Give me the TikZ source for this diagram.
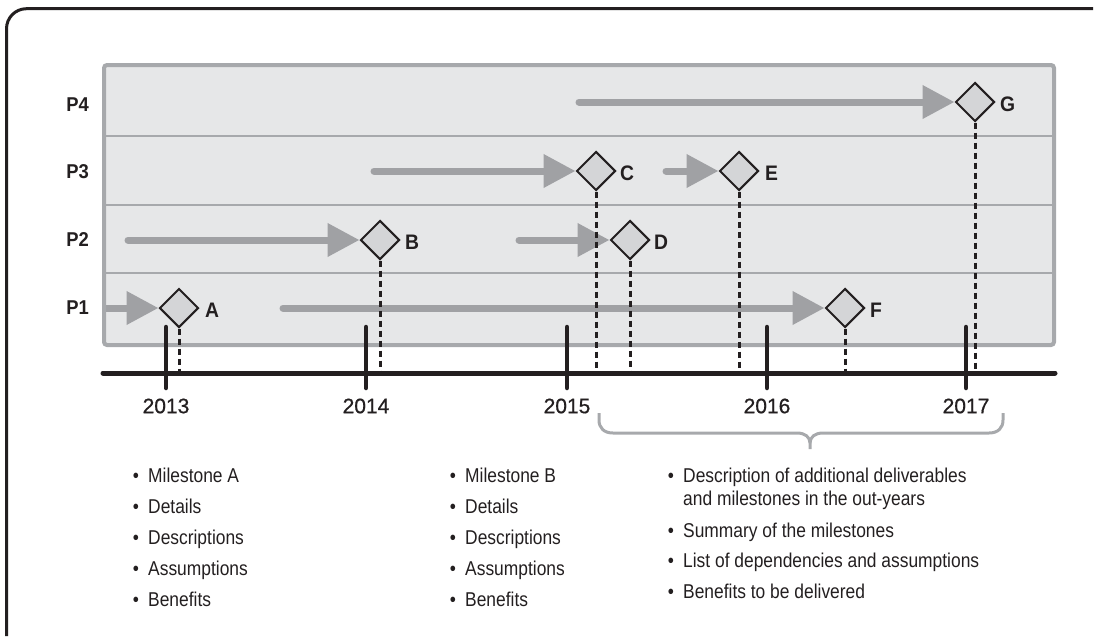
\documentclass[tikz,border=0pt]{standalone}
\usepackage{fontspec}
\setmainfont{Liberation Sans}[FakeStretch=0.87]
\newfontfamily\yearfont{Liberation Sans}[FakeBold=0.7]
\newfontfamily\tagfont{Liberation Sans}[FakeStretch=0.92]
\usetikzlibrary{shapes.geometric,arrows.meta,calc}

\definecolor{ink}{HTML}{231F20}
\definecolor{panel}{HTML}{E6E7E8}
\definecolor{rim}{HTML}{A7A9AC}
\definecolor{shaftgray}{HTML}{A0A1A4}
\definecolor{gem}{HTML}{D4D5D7}

\tikzset{
  milestone/.style={diamond, aspect=1, draw=ink, fill=gem, line width=2,
    minimum size=39, inner sep=0},
  mlabel/.style={anchor=west, inner sep=0, text=ink,
    font=\tagfont\bfseries\fontsize{21}{24}\selectfont},
  rowlabel/.style={anchor=east, inner sep=0, text=ink,
    font=\tagfont\bfseries\fontsize{20}{23}\selectfont},
  yearlabel/.style={inner sep=0, text=ink,
    font=\yearfont\fontsize{21}{24}\selectfont},
  workbar/.style={draw=shaftgray, line width=7, line cap=round,
    -{Triangle[length=32pt,width=32pt]}},
  droplink/.style={draw=ink, line width=3, dash pattern=on 6pt off 4pt},
  yeartick/.style={draw=ink, line width=4.5, line cap=round},
  bulletdot/.style={anchor=base, inner sep=0, text=ink,
    font=\fontsize{20}{23}\selectfont},
  bullettext/.style={anchor=base west, inner sep=0, text=ink,
    font=\fontsize{20}{23}\selectfont},
}

% one bullet line: name, x of the dot, baseline, text
\newcommand\listline[4]{%
  \node[bulletdot] (#1d) at (#2,#3) {•};
  \node[bullettext] (#1) at (#2+12,#3) {#4};}

\begin{document}
\begin{tikzpicture}[x=1pt,y=-1pt]
\useasboundingbox (0,0) rectangle (1100,643);

% outer frame
\draw[ink, line width=3, rounded corners=20] (6.5,636) -- (6.5,8.7) -- (1093,8.7);

% swim-lane panel
\fill[panel] (104,65) rectangle (1054,345);
\foreach \yy in {136,205,273}
  \draw[rim, line width=2.5] (104,\yy) -- (1054,\yy);

% row labels
\node[rowlabel] (P4) at (89,105) {P4};
\node[rowlabel] (P3) at (89,172) {P3};
\node[rowlabel] (P2) at (89,240) {P2};
\node[rowlabel] (P1) at (89,308) {P1};

% milestones
\node[milestone] (A) at (179,308) {};
\node[milestone] (B) at (380,240) {};
\node[milestone] (C) at (596,171) {};
\node[milestone] (D) at (630,240) {};
\node[milestone] (E) at (739,171) {};
\node[milestone] (F) at (845,308) {};
\node[milestone] (G) at (975,102) {};

\node[mlabel] (lA) at (205,310) {A};
\node[mlabel] (lB) at (405,242) {B};
\node[mlabel] (lC) at (620,173) {C};
\node[mlabel] (lD) at (654,242) {D};
\node[mlabel] (lE) at (765,173) {E};
\node[mlabel] (lF) at (870,310) {F};
\node[mlabel] (lG) at (1000,104) {G};

% work bars leading into milestones
\coordinate (sA) at (105,308);
\coordinate (sB) at (128,240);
\coordinate (sC) at (374,171);
\coordinate (sD) at (519,240);
\coordinate (sE) at (666,171);
\coordinate (sF) at (283,308);
\coordinate (sG) at (579,102);
\draw[workbar, line cap=butt] (sA) -- (A.west);
\foreach \m in {B,C,D,E,F,G}
  \draw[workbar] (s\m) -- (\m.west);

% panel border on top
\draw[rim, line width=4, rounded corners=3] (104,65) rectangle (1054,345);

% time axis
\coordinate (axL) at (103,373);
\coordinate (axR) at (1055,373);
\draw[ink, line width=5, line cap=round] (axL) -- (axR);

% drop lines from milestones to the axis
\foreach \m in {A,B,C,D,E,F,G}
  \draw[droplink] (\m.south) -- (\m.south |- axL);

% year ticks and labels
\foreach \yr/\xx in {2013/166,2014/366,2015/567,2016/767,2017/966}{
  \coordinate (t\yr) at (\xx,373);
  \draw[yeartick] (t\yr) ++(0,-46) -- ++(0,61);
  \node[yearlabel] (y\yr) at (\xx,406) {\yr};
}

% brace over the out-years
\draw[rim, line width=3] (599,413) -- (599,420)
  .. controls (599,428) and (604,433) .. (613,433) -- (797,433)
  .. controls (805,433) and (810,437) .. (810,443) -- (810,449);
\draw[rim, line width=3] (1003,413) -- (1003,420)
  .. controls (1003,428) and (998,433) .. (989,433) -- (823,433)
  .. controls (815,433) and (810,437) .. (810,443);

% notes under 2013
\listline{na1}{136}{482}{Milestone A}
\listline{na2}{136}{513}{Details}
\listline{na3}{136}{544}{Descriptions}
\listline{na4}{136}{575}{Assumptions}
\listline{na5}{136}{606}{Benefits}

% notes under 2014
\listline{nb1}{453}{482}{Milestone B}
\listline{nb2}{453}{513}{Details}
\listline{nb3}{453}{544}{Descriptions}
\listline{nb4}{453}{575}{Assumptions}
\listline{nb5}{453}{606}{Benefits}

% notes for the out-years
\listline{nc1}{671}{482}{Description of additional deliverables}
\node[bullettext] (nc1b) at (683,505) {and milestones in the out-years};
\listline{nc2}{671}{537}{Summary of the milestones}
\listline{nc3}{671}{567}{List of dependencies and assumptions}
\listline{nc4}{671}{598}{Benefits to be delivered}
\end{tikzpicture}
\end{document}
